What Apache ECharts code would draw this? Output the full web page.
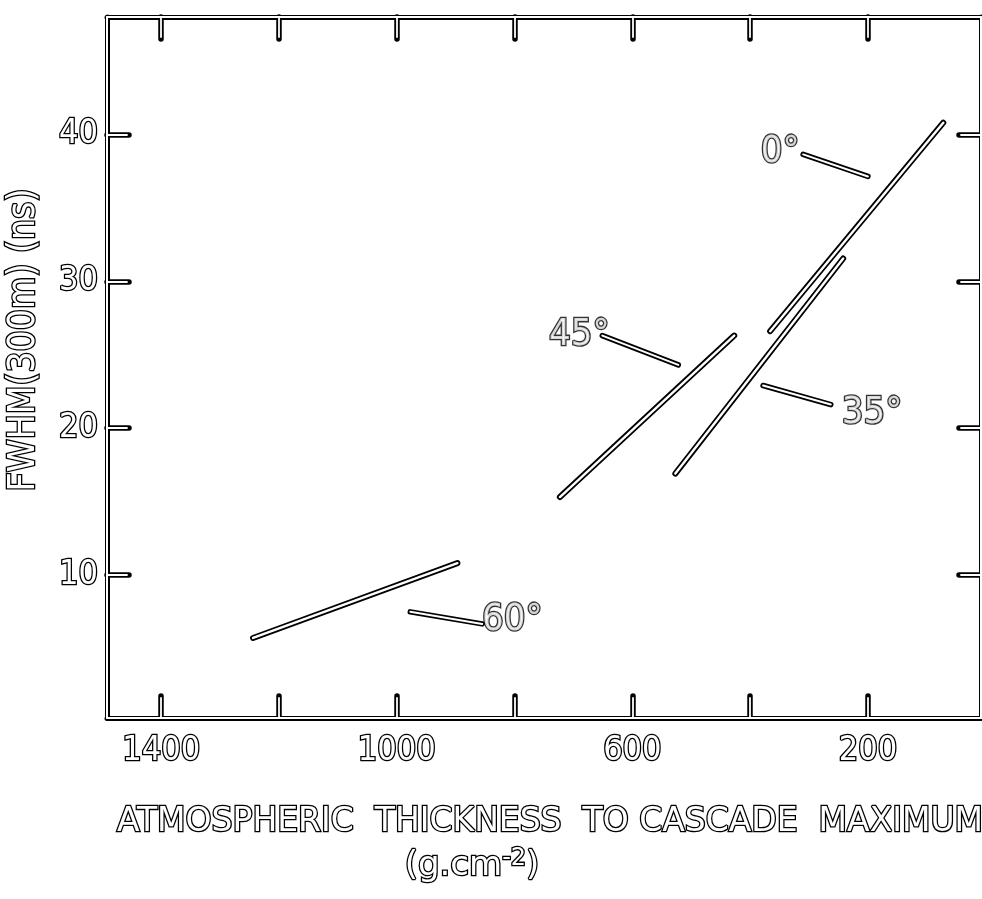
<!DOCTYPE html>
<html>
<head>
<meta charset="utf-8">
<script src="https://cdn.jsdelivr.net/npm/echarts@6/dist/echarts.min.js"></script>
<style>
  html, body { margin: 0; padding: 0; background: #fff; }
  #chart { width: 982px; height: 899px; }
</style>
</head>
<body>
<div id="chart"></div>
<script>
// Axis ticks and labels
const xTicks = [1400, 1200, 1000, 800, 600, 400, 200];
const xLabels = [1400, 1000, 600, 200];
const yTicks = [10, 20, 30, 40];
const yLabels = [10, 20, 30, 40];

// FWHM at 300 m versus depth of cascade maximum, one segment per zenith angle
const line0 = [[366, 26.6], [72, 40.8]];
const line35 = [[527, 16.9], [242, 31.55]];
const line45 = [[723, 15.3], [427, 26.3]];
const line60 = [[1244, 5.7], [897, 10.8]];

// Angle labels: text position and leader line, in axis units
const angleNames = ['0°', '35°', '45°', '60°'];
const angleTextAt = [[349, 38.8], [193, 21.05], [690, 26.3], [804, 6.93]];
const angleLeaders = [
  [[310, 38.64], [200, 37.14]],
  [[378, 22.9], [263, 21.6]],
  [[651, 26.3], [522, 24.3]],
  [[977, 7.48], [855, 6.66]]
];

const INK = '#000';
const PAPER = '#fff';
const narrow = "'Liberation Sans Narrow', 'DejaVu Sans Condensed', sans-serif";
const wide = "'DejaVu Sans', sans-serif";

// Hollow (outlined) text for axis and series labels
const hollowText = (size, family) => ({
  color: PAPER,
  textBorderColor: INK,
  textBorderWidth: 2.6,
  fontSize: size,
  fontFamily: family
});

// Hollow text for graphic elements (zrender style names)
const hollowGraphic = (size, family) => ({
  fill: PAPER,
  stroke: INK,
  lineWidth: 2.6,
  fontSize: size,
  fontFamily: family
});

// Hollow strokes: a wide dark stroke with a thin light stroke on top
function hollowLine(data, outer, inner) {
  return [
    {
      type: 'line', data: data, symbol: 'none', silent: true, z: 3,
      lineStyle: { color: INK, width: outer, cap: 'round' }
    },
    {
      type: 'line', data: data, symbol: 'none', silent: true, z: 4,
      lineStyle: { color: PAPER, width: inner, cap: 'round' }
    }
  ];
}

function frameAxis(kind, pos, light, withLabels) {
  const ticks = kind === 'x' ? xTicks : yTicks;
  const labels = kind === 'x' ? xLabels : yLabels;
  const ax = {
    type: 'value',
    position: pos,
    min: kind === 'x' ? 8 : 0.25,
    max: kind === 'x' ? 1492 : 48,
    inverse: kind === 'x',
    z: light ? 6 : 5,
    splitLine: { show: false },
    axisLine: {
      show: true,
      onZero: false,
      lineStyle: { color: light ? PAPER : INK, width: light ? 2 : 5, cap: 'round' }
    },
    axisTick: {
      show: true,
      inside: true,
      length: light ? 20 : 22,
      customValues: ticks,
      lineStyle: { color: light ? PAPER : INK, width: light ? 1.8 : 5.5, cap: 'round' }
    },
    axisLabel: { show: false }
  };
  if (withLabels) {
    ax.axisLabel = Object.assign({
      show: true,
      customValues: labels,
      formatter: v => String(v),
      margin: kind === 'x' ? 16 : 9
    }, hollowText(34, narrow));
  }
  return ax;
}

const series = [];
[line0, line35, line45, line60].forEach(d => series.push(...hollowLine(d, 6, 2.4)));
angleLeaders.forEach(d => series.push(...hollowLine(d, 5.5, 2)));
series.push({
  type: 'scatter',
  silent: true,
  symbolSize: 0,
  z: 7,
  data: angleTextAt.map((p, i) => ({ value: p, name: angleNames[i] })),
  label: Object.assign({
    show: true,
    position: 'inside',
    formatter: p => p.name
  }, hollowText(38, narrow))
});

const chart = echarts.init(document.getElementById('chart'), null, { renderer: 'canvas' });
chart.setOption({
  animation: false,
  backgroundColor: PAPER,
  grid: { left: 107, right: 1, top: 17, bottom: 181, containLabel: false },
  xAxis: [
    frameAxis('x', 'bottom', false, true),
    frameAxis('x', 'top', false, false),
    frameAxis('x', 'bottom', true, false),
    frameAxis('x', 'top', true, false)
  ],
  yAxis: [
    frameAxis('y', 'left', false, true),
    frameAxis('y', 'right', false, false),
    frameAxis('y', 'left', true, false),
    frameAxis('y', 'right', true, false)
  ],
  series: series,
  graphic: [
    {
      type: 'text',
      x: 24,
      y: 340,
      rotation: Math.PI / 2,
      style: Object.assign({
        text: 'FWHM(300m) (ns)',
        x: 0, y: 0,
        align: 'center',
        verticalAlign: 'middle'
      }, hollowGraphic(37, narrow))
    },
    {
      type: 'text',
      style: Object.assign({
        text: 'ATMOSPHERIC  THICKNESS  TO CASCADE  MAXIMUM',
        x: 550, y: 822,
        align: 'center',
        verticalAlign: 'middle'
      }, hollowGraphic(33, wide))
    },
    {
      type: 'text',
      style: Object.assign({
        text: '(g.cm{sup|-2})',
        x: 472, y: 866,
        align: 'center',
        verticalAlign: 'middle',
        rich: {
          sup: Object.assign({ verticalAlign: 'top', padding: [0, 0, 14, 0] },
            hollowGraphic(24, wide))
        }
      }, hollowGraphic(34, wide))
    }
  ]
});
</script>
</body>
</html>
